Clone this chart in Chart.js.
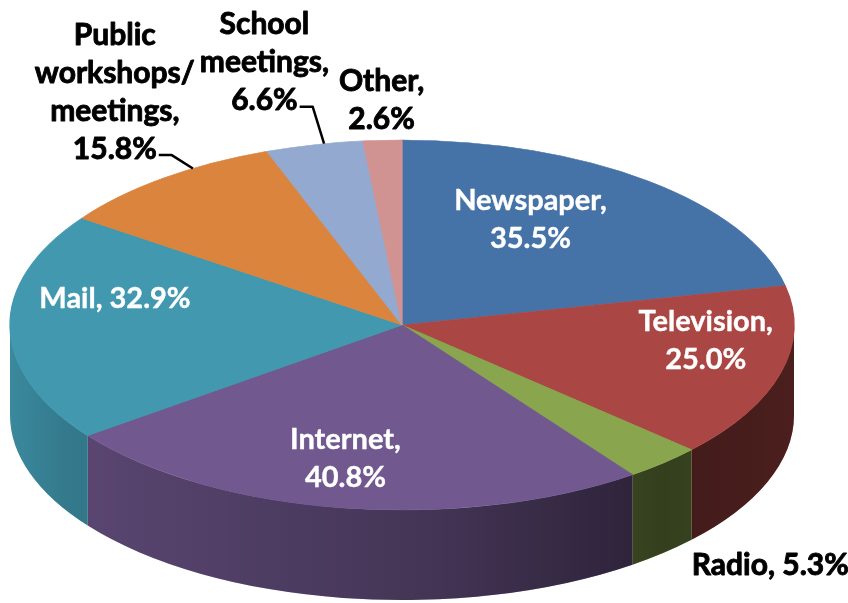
<!DOCTYPE html>
<html>
<head>
<meta charset="utf-8">
<script src="https://cdn.jsdelivr.net/npm/chart.js@4.4.0/dist/chart.umd.min.js"></script>
<style>
  html, body { margin: 0; padding: 0; background: #fff; }
  #wrap { width: 848px; height: 603px; position: relative; }
</style>
</head>
<body>
<div id="wrap"><canvas id="chart"></canvas></div>
<script>
// survey answers (multiple choice, so the shares add up to more than 100)
const categories = ['Newspaper', 'Television', 'Radio', 'Internet', 'Mail', 'Public workshops/ meetings', 'School meetings', 'Other'];
const percents = [35.5, 25.0, 5.3, 40.8, 32.9, 15.8, 6.6, 2.6];
const nameLines = [['Newspaper'], ['Television'], ['Radio'], ['Internet'], ['Mail'], ['Public', 'workshops/', 'meetings'], ['School', 'meetings'], ['Other']];
const sliceColors = ['#4572A7', '#AA4643', '#89A54E', '#71588F', '#4198AF', '#DB843D', '#93A9CF', '#D19392'];

// look of the tilted pie
const view = { cx: 402, cy: 325, rx: 392, ry: 185, depth: 90 };

// where each label sits: radius fraction along the slice middle + nudge
const labelLayout = [
    { inside: true,  f: 0.62, dx: -24, dy: -16 },
    { inside: true,  f: 0.62, dx: 69,  dy: -14 },
    { inside: false, f: 1.0,  dx: 107, dy: 102, sameLine: true },
    { inside: true,  f: 0.62, dx: -20, dy: 20 },
    { inside: true,  f: 0.62, dx: -44, dy: -28, sameLine: true },
    { inside: false, f: 1.0,  dx: -49, dy: -86, leader: 0.65 },
    { inside: false, f: 1.0,  dx: -50, dy: -82, leader: 0.6 },
    { inside: false, f: 1.0,  dx: -1,  dy: -40 }
];

const FONT_IN = 'bold 29px Lato, "Open Sans", sans-serif';
const FONT_OUT = 'bold 30px Lato, "Open Sans", sans-serif';
const LINE_H = 38;

function onEllipse(angle, f) {
    return {
        x: view.cx + view.rx * f * Math.cos(angle),
        y: view.cy + view.ry * f * Math.sin(angle)
    };
}

function labelFor(i) {
    const lines = nameLines[i].slice();
    const value = percents[i].toFixed(1) + '%';
    lines[lines.length - 1] += ',';
    if (labelLayout[i].sameLine) {
        lines[lines.length - 1] += ' ' + value;
    } else {
        lines.push(value);
    }
    return lines;
}

const pie3d = {
    id: 'pie3d',
    beforeDatasetsDraw(chart) {
        const arcs = chart.getDatasetMeta(0).data;
        const { x, y, outerRadius: r } = arcs[0];
        const sx = view.rx / r, sy = view.ry / r;
        const ctx = chart.ctx;
        ctx.save();
        ctx.translate(view.cx, view.cy);
        ctx.scale(sx, sy);
        ctx.translate(-x, -y);
        const d = view.depth / sy;

        // front walls, only the lower half of the rim shows
        arcs.forEach((arc, i) => {
            const a = Math.max(arc.startAngle, 0);
            const b = Math.min(arc.endAngle, Math.PI);
            if (b <= a) return;
            ctx.beginPath();
            ctx.arc(x, y, r, a, b);
            ctx.arc(x, y + d, r, b, a, true);
            ctx.closePath();
            ctx.fillStyle = sliceColors[i];
            ctx.fill();
            const g = ctx.createLinearGradient(x - r, 0, x + r, 0);
            g.addColorStop(0, 'rgba(0,0,0,0.10)');
            g.addColorStop(0.07, 'rgba(0,0,0,0.20)');
            g.addColorStop(0.53, 'rgba(0,0,0,0.40)');
            g.addColorStop(0.83, 'rgba(0,0,0,0.62)');
            g.addColorStop(1, 'rgba(0,0,0,0.56)');
            ctx.fillStyle = g;
            ctx.fill();
        });
        // transform stays on for the top face
    },
    afterDatasetsDraw(chart) {
        chart.ctx.restore();
    },
    afterDraw(chart) {
        const arcs = chart.getDatasetMeta(0).data;
        const ctx = chart.ctx;
        ctx.save();
        ctx.textAlign = 'center';
        ctx.textBaseline = 'middle';
        ctx.lineJoin = 'round';
        arcs.forEach((arc, i) => {
            const lay = labelLayout[i];
            const mid = (arc.startAngle + arc.endAngle) / 2;
            const p = onEllipse(mid, lay.f);
            const lines = labelFor(i);
            const cx = p.x + lay.dx;
            const top = p.y + lay.dy - (lines.length - 1) * LINE_H / 2;
            const col = lay.inside ? '#ffffff' : '#000000';
            ctx.font = lay.inside ? FONT_IN : FONT_OUT;
            ctx.fillStyle = col;
            ctx.strokeStyle = col;
            ctx.lineWidth = lay.inside ? 0.4 : 0.9;
            lines.forEach((t, k) => {
                ctx.fillText(t, cx, top + k * LINE_H);
                ctx.strokeText(t, cx, top + k * LINE_H);
            });

            if (lay.leader) {
                const last = lines[lines.length - 1];
                const ly = top + (lines.length - 1) * LINE_H + 6;
                const lx = cx + ctx.measureText(last).width / 2 + 2;
                const ang = arc.startAngle + (arc.endAngle - arc.startAngle) * lay.leader;
                const rim = onEllipse(ang, 1);
                ctx.beginPath();
                ctx.moveTo(lx, ly);
                ctx.lineTo(lx + 13, ly);
                ctx.lineTo(rim.x, rim.y);
                ctx.strokeStyle = '#000';
                ctx.lineWidth = 2.5;
                ctx.stroke();
            }
        });
        ctx.restore();
    }
};

new Chart(document.getElementById('chart'), {
    type: 'pie',
    data: {
        labels: categories,
        datasets: [{
            data: percents,
            backgroundColor: sliceColors,
            borderColor: sliceColors,
            borderWidth: 1,
            clip: false
        }]
    },
    options: {
        responsive: true,
        maintainAspectRatio: false,
        animation: false,
        events: [],
        layout: { padding: 0 },
        plugins: {
            legend: { display: false },
            tooltip: { enabled: false }
        }
    },
    plugins: [pie3d]
});
</script>
</body>
</html>
